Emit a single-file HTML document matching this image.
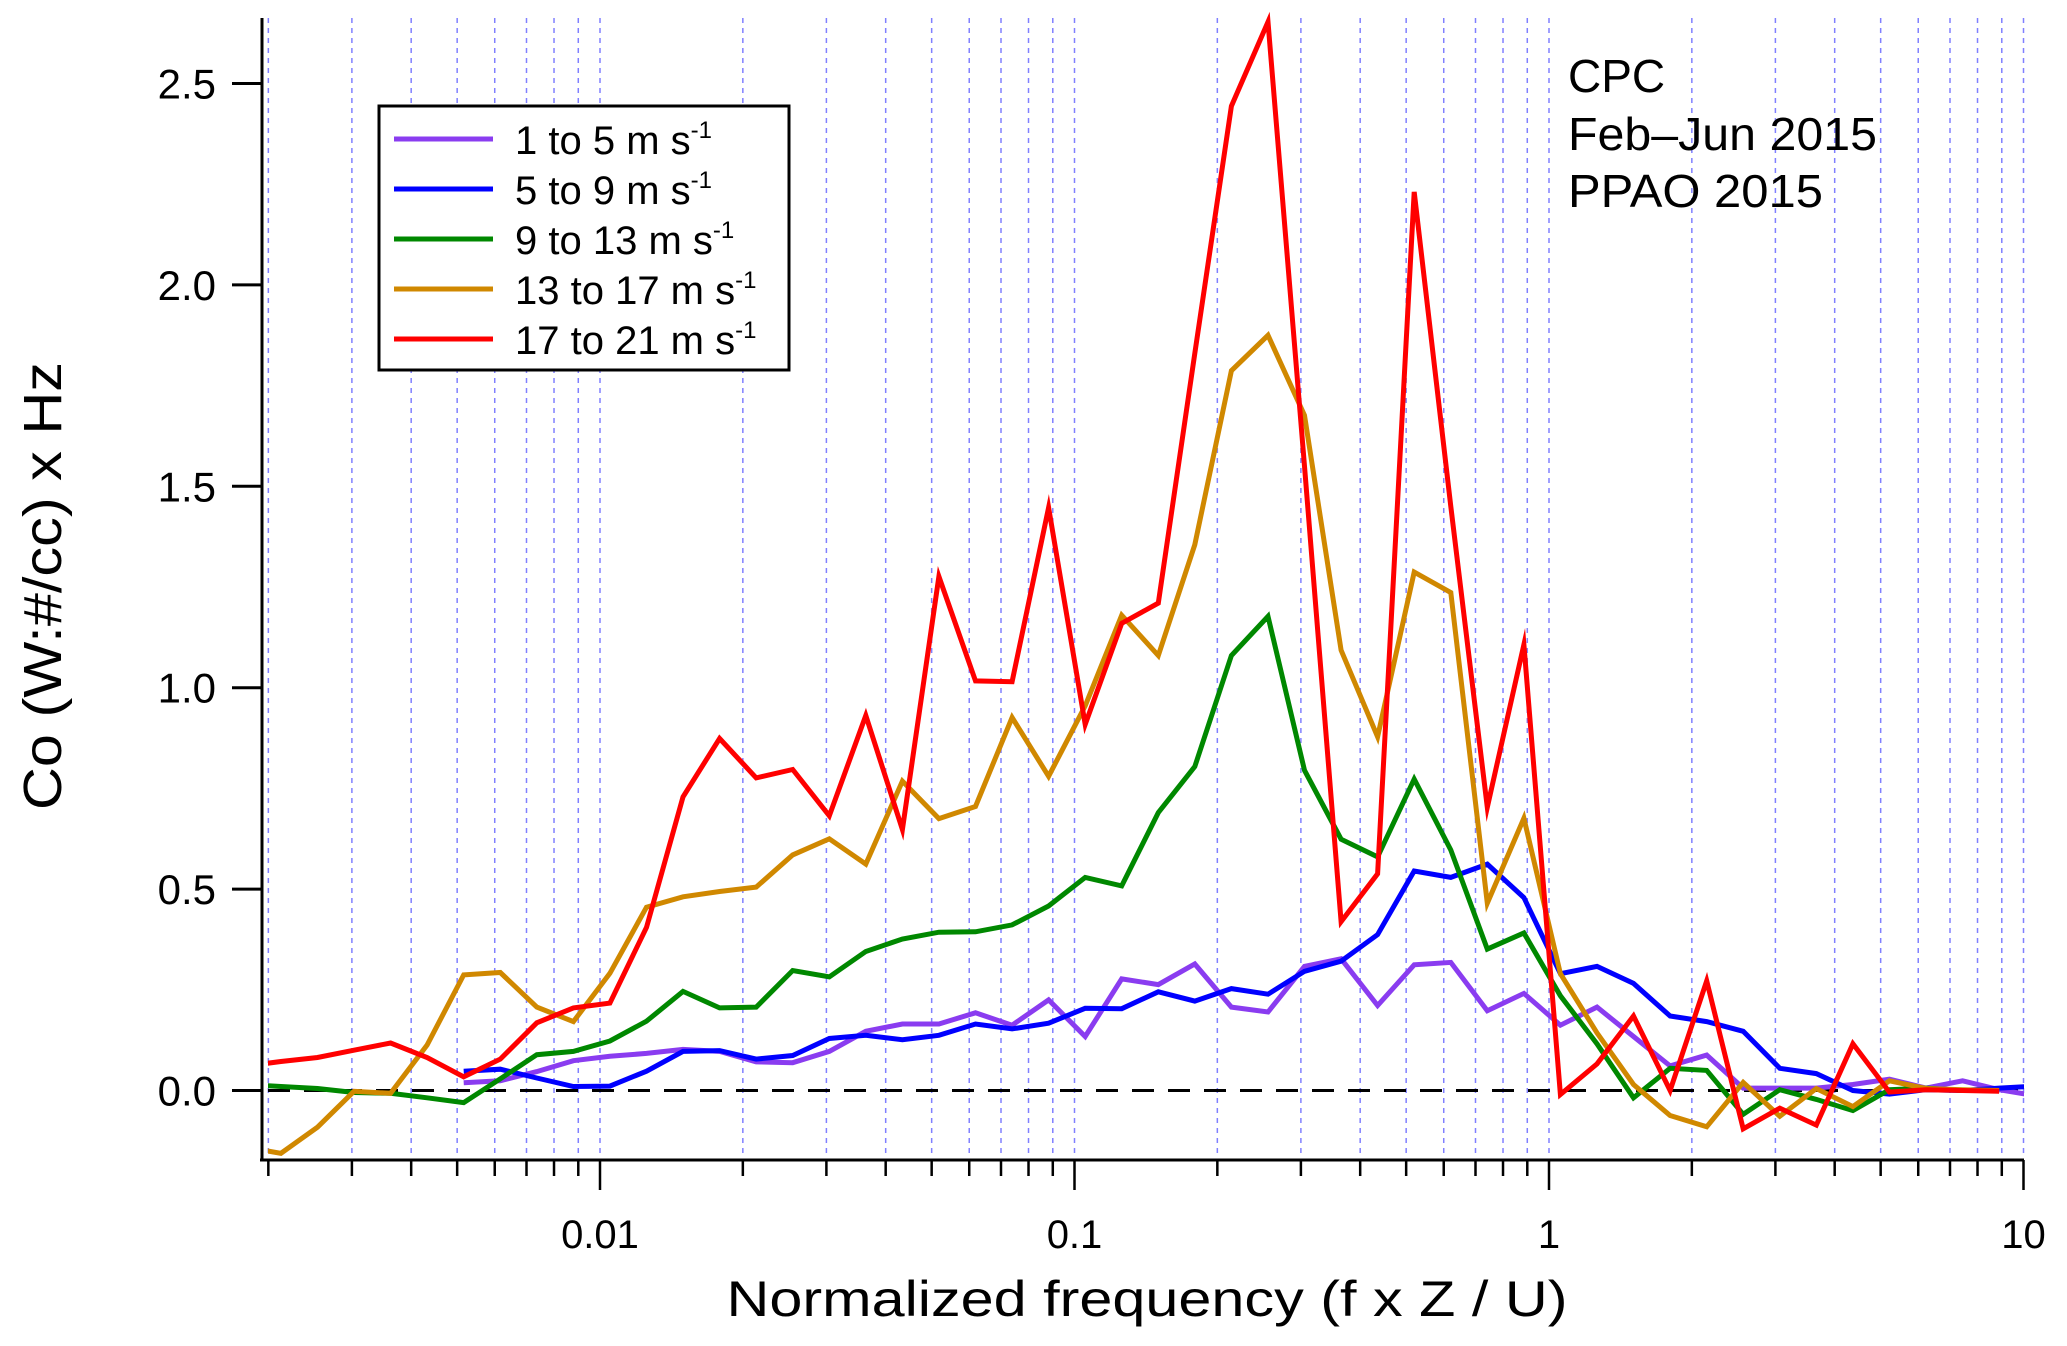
<!DOCTYPE html>
<html><head><meta charset="utf-8"><style>
html,body{margin:0;padding:0;background:#fff;}
svg{display:block;}
text{font-family:"Liberation Sans",sans-serif;fill:#000;}
</style></head><body>
<svg id="chart" width="2067" height="1346" viewBox="0 0 2067 1346" xmlns="http://www.w3.org/2000/svg">
<defs><clipPath id="plotclip"><rect x="268" y="0" width="1756" height="1160"/></clipPath></defs>
<g id="grid"></g>
<line x1="268" y1="1090.5" x2="2023" y2="1090.5" stroke="#000" stroke-width="3" stroke-dasharray="22,14"/>
<g id="series" clip-path="url(#plotclip)"></g>
<line x1="262" y1="18" x2="262" y2="1161" stroke="#000" stroke-width="3"/>
<line x1="260" y1="1160" x2="2024" y2="1160" stroke="#000" stroke-width="3"/>
<g id="xticks"></g>
<g id="yticks"></g>
<text x="1147" y="1316" font-size="50" text-anchor="middle" textLength="841" lengthAdjust="spacingAndGlyphs">Normalized frequency (f x Z / U)</text>
<text transform="translate(61,586) rotate(-90)" font-size="54" text-anchor="middle" textLength="448" lengthAdjust="spacingAndGlyphs">Co (W:#/cc) x Hz</text>
<g>
<text x="1568" y="92" font-size="46">CPC</text>
<text x="1568" y="150" font-size="46" textLength="309" lengthAdjust="spacingAndGlyphs">Feb–Jun 2015</text>
<text x="1568" y="207" font-size="46" textLength="255" lengthAdjust="spacingAndGlyphs">PPAO 2015</text>
</g>
<g id="legend">
<rect x="379" y="106" width="410" height="264" fill="#fff" stroke="#000" stroke-width="3"/>
</g>
</svg>
<script>
const freqs=[0.001780,0.002126,0.002539,0.003031,0.003620,0.004322,0.005161,0.006163,0.007359,0.008788,0.010494,0.012531,0.014963,0.017867,0.021336,0.025477,0.030423,0.036328,0.043380,0.051800,0.061855,0.073862,0.08820,0.10532,0.12576,0.15017,0.17932,0.21413,0.25570,0.30533,0.36460,0.43537,0.51988,0.62080,0.74131,0.88520,1.0570,1.2622,1.5072,1.7998,2.1491,2.5663,3.0645,3.6593,4.3696,5.2178,6.2306,7.4401,8.8843,10.609];
const s1to5=[null,null,null,null,null,null,0.019,0.024,0.047,0.074,0.085,0.092,0.102,0.097,0.071,0.069,0.097,0.147,0.165,0.165,0.193,0.162,0.225,0.134,0.277,0.263,0.314,0.207,0.195,0.308,0.327,0.211,0.312,0.318,0.198,0.241,0.162,0.207,0.134,0.061,0.088,0.006,0.006,0.006,0.015,0.028,0.006,0.024,0.002,-0.013];
const s5to9=[null,null,null,null,null,null,0.048,0.053,0.031,0.010,0.011,0.048,0.097,0.099,0.078,0.087,0.129,0.137,0.126,0.137,0.165,0.153,0.167,0.204,0.203,0.245,0.222,0.253,0.239,0.296,0.321,0.387,0.545,0.529,0.562,0.479,0.290,0.308,0.266,0.185,0.171,0.147,0.055,0.042,0.0,-0.009,0.002,0.0,0.006,0.011];
const s9to13=[0.015,0.010,0.005,-0.005,-0.007,-0.018,-0.030,0.029,0.089,0.097,0.123,0.172,0.246,0.205,0.207,0.298,0.282,0.345,0.376,0.393,0.394,0.411,0.458,0.529,0.508,0.690,0.804,1.080,1.177,0.795,0.624,0.580,0.773,0.597,0.351,0.391,0.235,0.116,-0.018,0.055,0.050,-0.059,0.002,-0.022,-0.050,0.002,0.006,0.0,0.0,null];
const s13to17=[-0.140,-0.156,-0.091,-0.002,-0.007,0.113,0.287,0.293,0.207,0.171,0.291,0.455,0.481,0.494,0.505,0.585,0.625,0.562,0.768,0.675,0.705,0.926,0.780,0.955,1.180,1.080,1.355,1.787,1.875,1.676,1.093,0.878,1.287,1.236,0.465,0.676,0.290,0.143,0.015,-0.062,-0.090,0.020,-0.064,0.005,-0.040,0.024,0.005,0.002,0.0,null];
const s17to21=[0.060,0.072,0.082,0.100,0.118,0.082,0.034,0.078,0.168,0.205,0.217,0.405,0.729,0.874,0.776,0.797,0.682,0.931,0.648,1.276,1.017,1.015,1.447,0.909,1.160,1.210,1.830,2.444,2.653,1.550,0.419,0.538,2.231,1.450,0.703,1.107,-0.010,0.066,0.185,0.0,0.272,-0.095,-0.044,-0.086,0.116,-0.004,0.002,0.0,-0.002,null];
const seriesNames=["1 to 5","5 to 9","9 to 13","13 to 17","17 to 21"];
const seriesColors=["#8a3cf0","#0000ff","#008800","#d08800","#ff0000"];
const yTicks=[0,0.5,1.0,1.5,2.0,2.5];
const yTickLabels=["0.0","0.5","1.0","1.5","2.0","2.5"];
const xMajor=[0.01,0.1,1,10];
const xMajorLabels=["0.01","0.1","1","10"];

const NS="http://www.w3.org/2000/svg";
const X0=600, DEC=474.5, Y0=1090.5, YU=402.8;
function xs(f){return X0+(Math.log10(f)+2)*DEC;}
function ys(v){return Y0-v*YU;}
function mk(tag,attrs,parent){const e=document.createElementNS(NS,tag);for(const k in attrs)e.setAttribute(k,attrs[k]);parent.appendChild(e);return e;}

const grid=document.getElementById('grid');
const xt=document.getElementById('xticks');
for(let d=-3;d<=0;d++){for(let m=1;m<=9;m++){const f=m*Math.pow(10,d);if(f<0.0019||f>10.01)continue;const x=xs(f);
 const g=mk('line',{x1:x,y1:18,x2:x,y2:1158,stroke:'#8080ff','stroke-width':1.5,'stroke-dasharray':'5,5'},grid);
 
 
 const t=mk('line',{x1:x,y1:1160,x2:x,y2:m===1?1190:1176,stroke:'#000','stroke-width':2.5},xt);
 
 
}}
{const x=xs(10);const g=mk('line',{x1:x,y1:18,x2:x,y2:1158,stroke:'#8080ff','stroke-width':1.5,'stroke-dasharray':'5,5'},grid);
 
 
 const t=mk('line',{x1:x,y1:1160,x2:x,y2:1190,stroke:'#000','stroke-width':2.5},xt);
 
 }
xMajor.forEach((f,i)=>{const t=mk('text',{x:xs(f),y:1248,'font-size':40,'text-anchor':'middle'},xt);t.textContent=xMajorLabels[i];
 
 });
const yt=document.getElementById('yticks');
yTicks.forEach((v,i)=>{const y=ys(v);const l=mk('line',{x1:232,y1:y,x2:262,y2:y,stroke:'#000','stroke-width':3},yt);
 
 
 const t=mk('text',{x:216,y:y+15,'font-size':42,'text-anchor':'end'},yt);t.textContent=yTickLabels[i];
 
 });

const sg=document.getElementById('series');
const allSeries=[s1to5,s5to9,s9to13,s13to17,s17to21];
allSeries.forEach((arr,si)=>{let pts=[];arr.forEach((v,i)=>{if(v!==null)pts.push(xs(freqs[i]).toFixed(1)+','+ys(v).toFixed(1));});
 const p=mk('polyline',{points:pts.join(' '),fill:'none',stroke:seriesColors[si],'stroke-width':5,'stroke-linejoin':'miter','stroke-miterlimit':10},sg);
 
 });

const lg=document.getElementById('legend');
seriesNames.forEach((n,i)=>{const y=139+i*50;
 const l=mk('line',{x1:394,y1:y,x2:493,y2:y,stroke:seriesColors[i],'stroke-width':5},lg);
 
 
 const t=mk('text',{x:515,y:y+15,'font-size':40},lg);
 
 
 t.appendChild(document.createTextNode(n+' m s'));
 const s=document.createElementNS(NS,'tspan');s.setAttribute('dy','-16');s.setAttribute('font-size','24');s.textContent='-1';t.appendChild(s);});
</script>
</body></html>
